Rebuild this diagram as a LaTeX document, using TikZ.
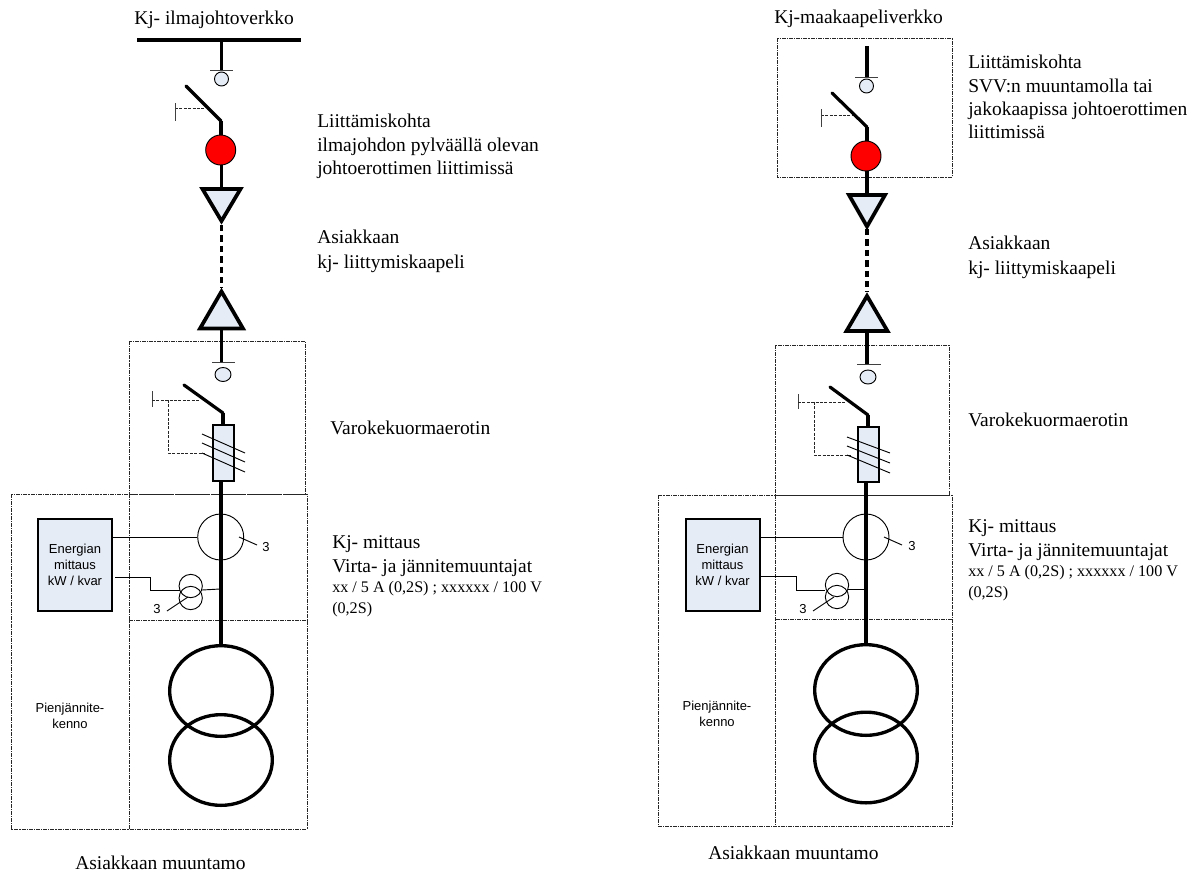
\documentclass[tikz,border=0pt]{standalone}
\usepackage{fontspec}
\setmainfont{Liberation Serif}
\setsansfont{Liberation Sans}
\definecolor{fillblue}{HTML}{E6ECF6}
\definecolor{netred}{HTML}{FF0000}
\usetikzlibrary{shapes.geometric}
\tikzset{
  x=0.75pt,y=-0.75pt,
  heavy/.style={line width=2.7pt},
  medium/.style={line width=2.4pt,line cap=round},
  thin line/.style={line width=0.7pt},
  hair/.style={line width=0.7pt,draw=black!75},
  ctrl/.style={line width=0.65pt,dash pattern=on 2.2pt off 1.1pt,draw=black!85},
  zone/.style={line width=0.7pt,draw=black!85,dash pattern=on 3pt off 0.8pt on 0.8pt off 0.8pt},
  cable/.style={line width=2.7pt,dash pattern=on 4.8pt off 3pt},
  tri/.style={line width=2.8pt,fill=fillblue,line join=miter},
  lbl/.style={font=\fontsize{14.6}{18.4}\selectfont,inner sep=0pt,anchor=north west,align=left},
  tight/.style={font=\fontsize{14.6}{17.5}\selectfont},
  small/.style={font=\fontsize{12.1}{15.4}\selectfont},
  sans/.style={font=\sffamily\fontsize{9.75}{12}\selectfont,inner sep=0pt,align=center},
  sanss/.style={font=\sffamily\fontsize{9.75}{11.5}\selectfont,inner sep=0pt,align=center},
  term/.style={circle,draw=black,line width=0.7pt,fill=fillblue,inner sep=0pt,minimum size=10.5pt},
  termw/.style={ellipse,draw=black,line width=0.7pt,fill=fillblue,inner sep=0pt,minimum width=12pt,minimum height=10.5pt},
  redc/.style={circle,draw=black,line width=0.7pt,fill=netred,inner sep=0pt,minimum size=22.5pt},
  fuse/.style={rectangle,draw=black,line width=1.5pt,fill=fillblue,inner sep=0pt,minimum width=15.5pt,minimum height=41.5pt},
  meter/.style={rectangle,draw=black,line width=1.5pt,fill=fillblue,inner sep=0pt,minimum width=55.5pt,minimum height=69pt},
  ct/.style={circle,draw=black,line width=0.7pt,inner sep=0pt,minimum size=34.5pt},
  vt/.style={circle,draw=black,line width=0.7pt,inner sep=0pt,minimum size=17.5pt},
  power/.style={ellipse,draw=black,line width=2.5pt,inner sep=0pt,minimum width=77pt,minimum height=68pt},
}
\begin{document}
\begin{tikzpicture}
\useasboundingbox (0,0) rectangle (1196,872);
% ---------- LEFT ----------
\draw[zone] (129,341) rectangle (305,494);
\draw[zone] (11,494) rectangle (307,829);
\draw[zone] (129,494) -- (129,829);
\draw[zone] (129,620) -- (307,620);
\coordinate (LbusW) at (137,40); \coordinate (LbusE) at (301,40); \coordinate (LbusT) at (221.5,40);
\coordinate (Ltick1) at (221.5,71);
\draw[heavy] (LbusW) -- (LbusE);
\draw[heavy] (LbusT) -- (Ltick1);
\draw[hair] (210,70) -- (233,70);
\node[term] (Lt1) at (221.5,79) {};
\coordinate (Lsa) at (186,86); \coordinate (Lsb) at (221,121);
\node[redc] (Lred) at (220.7,150) {};
\draw[medium] (Lsa) -- (Lsb);
\draw[heavy] (Lsb) -- (Lsb |- Lred.north);
\draw[ctrl] (175,108) -- (207,108);
\draw[hair] (175,103) -- (175,121);
\coordinate (LtrA) at (221.5,225);
\coordinate (LtrB) at (221.5,288);
\coordinate (LtrBase) at (221.5,189);
\draw[heavy] (Lred.south -| LtrBase) -- (LtrBase);
\draw[cable] (LtrA) -- (LtrB);
\draw[tri] (202.5,189) -- (240.5,189) -- (221.5,221) -- cycle;
\draw[tri] (200,328.5) -- (243,328.5) -- (221.5,291.5) -- cycle;
\coordinate (Ltick2) at (221.5,362);
\draw[heavy] (221.5,328) -- (Ltick2);
\draw[hair] (212,362) -- (235,362);
\node[termw] (Lt2) at (223,374.5) {};
\node[fuse] (Lfuse) at (223.5,453) {};
\coordinate (Lqa) at (184,385); \coordinate (Lqb) at (223,413);
\draw[medium] (Lqa) -- (Lqb);
\draw[heavy] (Lqb) -- (Lfuse.north -| Lqb);
\draw[hair] (152,391) -- (152,407);
\draw[ctrl] (152,400) -- (199,400);
\draw[ctrl] (168,400) -- (168,453) -- (205,453);
\draw[thin line] (202,434) -- (245,453);
\draw[thin line] (202,443) -- (245,462);
\draw[thin line] (202,453) -- (245,472);
\node[power] (Lp1) at (221,691) {};
\node[power] (Lp2) at (221,760) {};
\draw[heavy] (Lfuse.south -| 220.7,0) -- (Lp1.north -| 220.7,0);
\node[meter] (Lm) at (75,565) {};
\node[sans] (Lmt) at (Lm.center) {Energian\\mittaus\\kW / kvar};
\node[ct] (Lct) at (220.7,537) {};
\draw[thin line] (Lm.east |- Lct) -- (Lct.west);
\node[vt] (Lv1) at (190.7,586) {};
\node[vt] (Lv2) at (190.7,598) {};
\draw[thin line] (115,577) -- (150,577) -- (150,590) -- (180,590);
\draw[thin line] (202,590) -- (220,589);
\draw[thin line] (239,537) -- (257,545);
\node[sans] (L3a) at (266,547) {3};
\draw[thin line] (167,611) -- (188,597);
\node[sans] (L3b) at (157,609) {3};
\node[sanss] (Lpj) at (70,716) {Pienjännite-\\kenno};
\node[lbl,anchor=base west] (Lh) at (134,24) {Kj- ilmajohtoverkko};
\node[lbl,tight] (L1) at (317,114) {Liittämiskohta\\ilmajohdon pylväällä olevan\\johtoerottimen liittimissä};
\node[lbl] (L2) at (317,230) {Asiakkaan\\kj- liittymiskaapeli};
\node[lbl] (L3) at (330,421) {Varokekuormaerotin};
\node[lbl] (L4) at (332,535) {Kj- mittaus\\Virta- ja jännitemuuntajat};
\node[lbl,small] (L5) at (332,581.5) {xx / 5 A (0,2S) ; xxxxxx / 100 V\\(0,2S)};
\node[lbl] (L6) at (75,856) {Asiakkaan muuntamo};
% ---------- RIGHT ----------
\draw[zone] (777,38) rectangle (952,177);
\draw[zone] (775.5,345) rectangle (949,495);
\draw[zone] (658,495) rectangle (952,826);
\draw[zone] (775.5,495) -- (775.5,826);
\draw[zone] (775.5,619) -- (952,619);
\coordinate (Rtop) at (867,46); \coordinate (Rtick1) at (867,78);
\draw[heavy] (Rtop) -- (Rtick1);
\draw[hair] (855,77) -- (878,77);
\node[term] (Rt1) at (866.5,86) {};
\coordinate (Rsa) at (832,93); \coordinate (Rsb) at (867,127);
\node[redc] (Rred) at (866,156) {};
\draw[medium] (Rsa) -- (Rsb);
\draw[heavy] (Rsb) -- (Rsb |- Rred.north);
\draw[ctrl] (821,115) -- (852,115);
\draw[hair] (821,109) -- (821,127);
\coordinate (RtrA) at (867,229);
\coordinate (RtrB) at (867,292);
\coordinate (RtrBase) at (867,195);
\draw[heavy] (Rred.south -| RtrBase) -- (RtrBase);
\draw[cable] (RtrA) -- (RtrB);
\draw[tri] (849,195) -- (885,195) -- (867,226.5) -- cycle;
\draw[tri] (846.5,331) -- (887.5,331) -- (867,296) -- cycle;
\coordinate (Rtick2) at (867,364);
\draw[heavy] (867,331) -- (Rtick2);
\draw[hair] (857,364) -- (881,364);
\node[termw] (Rt2) at (868,377) {};
\node[fuse] (Rfuse) at (868.5,454.5) {};
\coordinate (Rqa) at (830,387); \coordinate (Rqb) at (868,415);
\draw[medium] (Rqa) -- (Rqb);
\draw[heavy] (Rqb) -- (Rfuse.north -| Rqb);
\draw[hair] (798,394) -- (798,409);
\draw[ctrl] (798,402) -- (845,402);
\draw[ctrl] (814,402) -- (814,455) -- (851,455);
\draw[thin line] (847,437) -- (890,453);
\draw[thin line] (847,446) -- (890,463);
\draw[thin line] (847,455) -- (890,473);
\node[power] (Rp1) at (866,690) {};
\node[power] (Rp2) at (866,757.5) {};
\draw[heavy] (Rfuse.south -| 866,0) -- (Rp1.north);
\node[meter] (Rm) at (722.5,565) {};
\node[sans] (Rmt) at (Rm.center) {Energian\\mittaus\\kW / kvar};
\node[ct] (Rct) at (866,537) {};
\draw[thin line] (Rm.east |- Rct) -- (Rct.west);
\node[vt] (Rv1) at (837,585) {};
\node[vt] (Rv2) at (837,597) {};
\draw[thin line] (761,576) -- (796,576) -- (796,590) -- (825,590);
\draw[thin line] (848,589) -- (866,589);
\draw[thin line] (884,537) -- (902,545);
\node[sans] (R3a) at (912,546) {3};
\draw[thin line] (813,611) -- (834,597);
\node[sans] (R3b) at (803,609) {3};
\node[sanss] (Rpj) at (717,714) {Pienjännite-\\kenno};
\node[lbl,anchor=base west] (Rh) at (774,23) {Kj-maakaapeliverkko};
\node[lbl,tight] (R1) at (968,55) {Liittämiskohta\\SVV:n muuntamolla tai\\jakokaapissa johtoerottimen\\liittimissä};
\node[lbl] (R2) at (968,236) {Asiakkaan\\kj- liittymiskaapeli};
\node[lbl] (R3) at (968,413) {Varokekuormaerotin};
\node[lbl,font=\fontsize{14.6}{18}\selectfont] (R4) at (968,519.5) {Kj- mittaus\\Virta- ja jännitemuuntajat};
\node[lbl,small] (R5) at (968,565) {xx / 5 A (0,2S) ; xxxxxx / 100 V\\(0,2S)};
\node[lbl] (R6) at (708,846) {Asiakkaan muuntamo};
\end{tikzpicture}
\end{document}
